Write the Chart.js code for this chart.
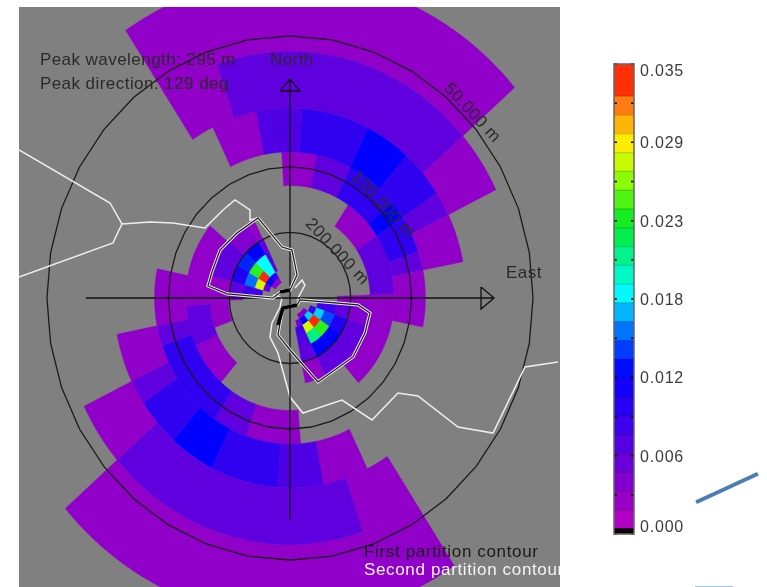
<!DOCTYPE html>
<html>
<head>
<meta charset="utf-8">
<title>Wave spectrum</title>
<script src="https://cdn.jsdelivr.net/npm/chart.js@4"></script>
<style>
  html, body { margin: 0; padding: 0; background: #fff; }
  body { width: 767px; height: 587px; position: relative; overflow: hidden; }
  canvas { position: absolute; filter: blur(0.45px); }
  #spectrum { left: 19px; top: 7px; background: #808080; }
  #colorbar { left: 600px; top: 40px; }
  .stray { position: absolute; background: #4a7fb0; }
</style>
</head>
<body>
<canvas id="spectrum" width="541" height="580"></canvas>
<canvas id="colorbar" width="120" height="520"></canvas>
<div class="stray" style="left:693px;top:486px;width:68px;height:4px;transform:rotate(-24.7deg)"></div>
<div class="stray" style="left:695px;top:586px;width:38px;height:1px;background:#9cc4ea"></div>
<script>
/* ---- wavenumber ring edges (1000 / wavelength in m) ---- */
const ringEdges = [1.36, 1.77, 2.3, 3, 3.9, 5.07, 6.6, 8.58, 11.15, 14.5, 18.85, 24.5];

/* ---- cells per ring: [from bearing, to bearing, energy] ---- */
const ringK = [[124, 154, .004], [-60, -31, .003]];
const ringJ = [[109, 124, .008], [124, 139, .017], [139, 154, .012], [154, 165, .005],
               [-75, -60, .006], [-60, -46, .012], [-46, -31, .009]];
const ringI = [[94, 109, .008], [109, 124, .017], [124, 139, .034], [139, 154, .028], [154, 169, .008],
               [-90, -75, .008], [-75, -60, .028], [-60, -46, .034], [-46, -31, .018], [-31, -26, .006]];
const ringH = [[94, 109, .008], [109, 124, .014], [124, 139, .024], [139, 154, .021], [154, 169, .007],
               [-90, -75, .008], [-75, -60, .015], [-60, -46, .024], [-46, -31, .018], [-31, -26, .007]];
const ringG = [[88, 94, .003], [94, 109, .006], [109, 124, .010], [124, 139, .012], [139, 154, .012], [154, 169, .006],
               [-92, -90, .003], [-90, -75, .006], [-75, -60, .010], [-60, -46, .013], [-46, -31, .012], [-31, -26, .006]];
const ringF = [[88, 94, .003], [94, 109, .004], [109, 154, .006], [154, 169, .003],
               [250, 268, .003], [-92, -75, .003], [-75, -49, .006], [-49, -31, .004], [-31, -26.5, .003]];
const ringE = [[34, 56.5, .003], [56.5, 88, .006], [88, 139, .003],
               [221.5, 245, .003], [245, 266, .006], [266, 310, .003]];
const ringD = [[-3.5, 11.5, .003], [11.5, 26.5, .006], [26.5, 49, .009], [49, 56.5, .012], [56.5, 71.5, .009],
               [71.5, 79, .006], [79, 101.5, .003],
               [175.5, 199, .003], [199, 214, .006], [214, 251, .009], [251, 259, .006], [259, 281.5, .003]];
/* the three outer rings are the same in both half planes */
const ringC = [[-26, -11, .003], [-11, 4, .007], [4, 26.5, .009], [26.5, 41.5, .012],
               [41.5, 56.5, .009], [56.5, 64, .006], [64, 79, .003]];
const ringB = [[-33.5, -18.5, .003], [-18.5, 49, .006], [49, 64, .003]];
const ringA = [[-33.5, 49, .003]];

const innerRings = [ringK, ringJ, ringI, ringH, ringG, ringF, ringE, ringD];
const outerRings = [ringC, ringB, ringA];

/* ---- range circles ---- */
const circleWavelengths = [50, 100, 200];

/* ---- overlay lines, x east / y north in wavenumber units ---- */
const contourNorth = [[-2.63, 6.11], [-4.36, 4.96], [-5.76, 3.66], [-6.42, 1.98], [-6.75, .92], [-5.19, .31],
                      [-1.4, 0], [-.66, .53], [0, .61], [.58, 1.76], [.16, 3.66], [-.66, 3.89], [-2.63, 6.11]];
const contourSouth = [[.82, -.15], [5.6, -.53], [6.58, -1.15], [6.17, -2.67], [5.19, -4.5], [2.3, -6.41], [0, -3.97],
                      [-.99, -2.82], [-.82, -1.91], [-.58, -.76], [.58, -.53], [.82, -.15]];
const contourThickA = [[-.82, .46], [0, .61]];
const contourThickB = [[-.99, -2.06], [-.58, -.76], [.58, -.53]];
const coastNorthwest = [[-22.3, 11.3], [-14.81, 7.25], [-13.83, 5.65]];
const coastWest = [[-22.3, 1.6], [-14.57, 4.2], [-13.83, 5.65], [-11.52, 5.8], [-9.63, 5.73], [-7, 5.34], [-5.51, 6.72],
                   [-4.53, 7.48], [-3.29, 6.72], [-3.29, 5.95], [-2.63, 6.11]];
const coastCentre = [[.41, .76], [.99, 1.37], [1.23, .99], [.58, -.15]];
const coastSouth = [[-1.4, .23], [-.66, 0], [-.82, -.69], [-1.48, -1.91], [-1.65, -2.98], [-.99, -4.2], [0, -7.56],
                    [1.07, -8.78], [4.28, -7.79], [6.75, -9.31], [8.89, -7.25], [10.53, -7.48], [13.83, -9.85],
                    [16.71, -10.31], [19.34, -5.27], [22.06, -4.89]];
const axisNorth = [[0, -16.95], [0, 16.7]];
const axisEast = [[-16.79, 0], [16.79, 0]];
const arrowNorth = [[-.82, 15.8], [0, 16.7], [.82, 15.8], [-.82, 15.8]];
const arrowEast = [[15.72, .84], [16.79, 0], [15.72, -.84], [15.72, .84]];

/* ---- colour bar ---- */
const barMax = 0.035;
const barTicks = [0, .00292, .00583, .00875, .01167, .01458, .0175, .02042, .02333, .02625, .02917, .03208, .035];
const barLabels = ['0.000', '0.006', '0.012', '0.018', '0.023', '0.029', '0.035'];
const barLabelTicks = [0, .00583, .01167, .0175, .02333, .02917, .035];
const barBandEdges = [0, .0004, .0018, .0032, .0046, .006, .0074, .0088, .0102, .0116, .013, .0144, .0158, .0172,
                      .0186, .02, .0214, .0228, .0242, .0256, .027, .0284, .0298, .0312, .0326, .035];

const colorStops = [
  [0, [192, 0, 192]], [.003, [145, 0, 200]], [.006, [96, 0, 222]], [.009, [48, 0, 240]], [.012, [0, 0, 255]],
  [.015, [0, 110, 255]], [.018, [0, 255, 255]], [.023, [0, 235, 40]], [.027, [170, 255, 0]], [.029, [255, 240, 0]],
  [.032, [255, 120, 20]], [.035, [255, 0, 0]],
];

function energyColor(v) {
  for (let i = 1; i < colorStops.length; i++) {
    const [v0, c0] = colorStops[i - 1];
    const [v1, c1] = colorStops[i];
    if (v <= v1) {
      const t = Math.max(0, (v - v0) / (v1 - v0));
      return 'rgb(' + c0.map((c, j) => Math.round(c + (c1[j] - c) * t)).join(',') + ')';
    }
  }
  return 'rgb(255,0,0)';
}

function toPoints(list) {
  return list.map(p => ({ x: p[0], y: p[1] }));
}

function lineSet(list, color, width, order) {
  return { data: toPoints(list), borderColor: color, borderWidth: width, order,
           showLine: true, pointRadius: 0, fill: false, tension: 0 };
}

/* ---- spectrum cells, circles and labels, all placed through the scales ---- */
const MAP_FONT = '17px "Liberation Sans"';

const mapLabels = [
  { text: 'Peak wavelength: 295 m', x: -20.58, y: 18.15, color: '#2a2a2a' },
  { text: 'Peak direction: 129 deg', x: -20.58, y: 16.32, color: '#2a2a2a' },
  { text: 'North', x: -1.65, y: 18.15, color: '#2a2a2a' },
  { text: 'East', x: 17.78, y: 1.85, color: '#2a2a2a' },
  { text: 'First partition contour', x: 6.09, y: -19.42, color: '#1a1a1a', spacing: '0.65px' },
  { text: 'Second partition contour', x: 6.09, y: -20.8, color: '#f4f4f4', spacing: '0.65px' },
  { text: '50.000 m', x: 14.98, y: 14.12, rot: 47, color: '#2a2a2a' },
  { text: '100.000 m', x: 7.65, y: 7.1, rot: 47, color: '#2a2a2a' },
  { text: '200.000 m', x: 3.87, y: 3.51, rot: 47, color: '#2a2a2a' },
];

function polar(chart, k, bearing) {
  const a = bearing * Math.PI / 180;
  return [chart.scales.x.getPixelForValue(k * Math.sin(a)), chart.scales.y.getPixelForValue(k * Math.cos(a))];
}

function fillCell(chart, r0, r1, cell) {
  const ctx = chart.ctx;
  const [from, to, value] = cell;
  const steps = Math.max(2, Math.ceil((to - from) / 2));
  ctx.beginPath();
  for (let i = 0; i <= steps; i++) {
    ctx.lineTo(...polar(chart, r1, from + (to - from) * i / steps));
  }
  for (let i = steps; i >= 0; i--) {
    ctx.lineTo(...polar(chart, r0, from + (to - from) * i / steps));
  }
  ctx.closePath();
  ctx.fillStyle = energyColor(value);
  ctx.strokeStyle = ctx.fillStyle;
  ctx.lineWidth = 0.4;
  ctx.fill();
  ctx.stroke();
}

const spectrumPlugin = {
  id: 'spectrum',
  beforeDatasetsDraw(chart) {
    const ctx = chart.ctx;
    ctx.save();
    innerRings.forEach((ring, i) => {
      ring.forEach(cell => fillCell(chart, ringEdges[i], ringEdges[i + 1], cell));
    });
    outerRings.forEach((ring, i) => {
      const n = innerRings.length + i;
      ring.forEach(cell => {
        fillCell(chart, ringEdges[n], ringEdges[n + 1], cell);
        fillCell(chart, ringEdges[n], ringEdges[n + 1], [cell[0] + 180, cell[1] + 180, cell[2]]);
      });
    });
    ctx.strokeStyle = '#1a1a1a';
    ctx.lineWidth = 1.3;
    circleWavelengths.forEach(w => {
      ctx.beginPath();
      for (let b = 0; b <= 360; b += 10) ctx.lineTo(...polar(chart, 1000 / w, b));
      ctx.closePath();
      ctx.stroke();
    });
    ctx.restore();
  },
  afterDatasetsDraw(chart) {
    const ctx = chart.ctx;
    ctx.save();
    ctx.font = MAP_FONT;
    ctx.textBaseline = 'middle';
    mapLabels.forEach(l => {
      ctx.save();
      ctx.letterSpacing = l.spacing || '0.45px';
      ctx.translate(chart.scales.x.getPixelForValue(l.x), chart.scales.y.getPixelForValue(l.y));
      if (l.rot) {
        ctx.rotate(l.rot * Math.PI / 180);
        ctx.textAlign = 'center';
      }
      ctx.fillStyle = l.color;
      ctx.fillText(l.text, 0, 0);
      ctx.restore();
    });
    ctx.restore();
  },
};

new Chart(document.getElementById('spectrum'), {
  type: 'scatter',
  data: {
    datasets: [
      lineSet(contourThickA, '#000', 3.5, 0),
      lineSet(contourThickB, '#000', 3.5, 0),
      lineSet(contourNorth, '#1c1c1c', 1.2, 1),
      lineSet(contourSouth, '#1c1c1c', 1.2, 1),
      lineSet(contourNorth, '#e6e6e6', 3.2, 2),
      lineSet(contourSouth, '#e6e6e6', 3.2, 2),
      lineSet(axisNorth, '#111', 1.3, 3),
      lineSet(axisEast, '#111', 1.3, 3),
      lineSet(arrowNorth, '#111', 1.3, 3),
      lineSet(arrowEast, '#111', 1.3, 3),
      lineSet(coastNorthwest, '#eee', 1.5, 4),
      lineSet(coastWest, '#eee', 1.5, 4),
      lineSet(coastCentre, '#eee', 1.5, 4),
      lineSet(coastSouth, '#eee', 1.5, 4),
    ],
  },
  options: {
    responsive: false,
    animation: false,
    layout: { padding: 0 },
    plugins: { legend: { display: false }, tooltip: { enabled: false } },
    scales: {
      x: { type: 'linear', display: false, min: -22.3, max: 22.22 },
      y: { type: 'linear', display: false, min: -22.06, max: 22.21 },
    },
  },
  plugins: [spectrumPlugin],
});

/* ---- colour bar chart ---- */
const colorbarPlugin = {
  id: 'colorbarFrame',
  afterDatasetsDraw(chart) {
    const { ctx, chartArea: area, scales } = chart;
    ctx.save();
    // darker seams between the colour bands
    ctx.strokeStyle = 'rgba(0,0,0,0.14)';
    ctx.lineWidth = 1.5;
    barBandEdges.slice(1, -1).forEach(v => {
      const y = scales.y.getPixelForValue(v);
      ctx.beginPath();
      ctx.moveTo(area.left, y);
      ctx.lineTo(area.right, y);
      ctx.stroke();
    });
    ctx.strokeStyle = '#000';
    barTicks.forEach(v => {
      const y = scales.y.getPixelForValue(v);
      ctx.beginPath();
      ctx.moveTo(area.left, y);
      ctx.lineTo(area.left + 3, y);
      ctx.moveTo(area.right - 3, y);
      ctx.lineTo(area.right, y);
      ctx.stroke();
    });
    ctx.strokeStyle = '#666';
    ctx.strokeRect(area.left, area.top, area.right - area.left, area.bottom - area.top);
    ctx.fillStyle = '#3c3c3c';
    ctx.font = '16px "Liberation Sans"';
    ctx.letterSpacing = '0.8px';
    ctx.textBaseline = 'middle';
    barLabels.forEach((text, i) => {
      const y = scales.y.getPixelForValue(barLabelTicks[i]) + 1.5;
      ctx.fillText(text, area.right + 6, Math.min(Math.max(y, area.top + 8), area.bottom - 6));
    });
    ctx.restore();
  },
};

// every band starts at zero and the lower bands paint over it, so no seams of white show
const barDatasets = barBandEdges.slice(0, -1).map((lo, i) => {
  const hi = barBandEdges[i + 1];
  return {
    data: [[0, hi]],
    backgroundColor: i === 0 ? '#000' : energyColor((lo + hi) / 2),
    borderWidth: 0,
    barPercentage: 1,
    categoryPercentage: 1,
    grouped: false,
  };
});

new Chart(document.getElementById('colorbar'), {
  type: 'bar',
  data: { labels: [''], datasets: barDatasets },
  options: {
    responsive: false,
    animation: false,
    layout: { padding: { left: 14, right: 86, top: 24, bottom: 26 } },
    plugins: { legend: { display: false }, tooltip: { enabled: false } },
    scales: {
      x: { display: false },
      y: { display: false, min: 0, max: barMax },
    },
  },
  plugins: [colorbarPlugin],
});
</script>
</body>
</html>
